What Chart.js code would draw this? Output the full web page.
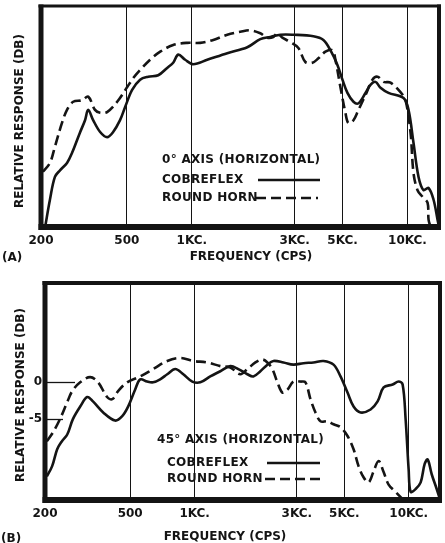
<!DOCTYPE html>
<html>
<head>
<meta charset="utf-8">
<script src="https://cdn.jsdelivr.net/npm/chart.js@4/dist/chart.umd.min.js"></script>
<style>
  html, body { margin: 0; padding: 0; background: #fff; }
  #wrap { position: relative; width: 445px; height: 543px; overflow: hidden; }
  .panel { position: absolute; left: 0; width: 445px; }
  #panelA { top: 0; height: 270px; }
  #panelB { top: 270px; height: 273px; }
</style>
</head>
<body>
<div id="wrap">
  <div class="panel" id="panelA"><canvas id="chartA"></canvas></div>
  <div class="panel" id="panelB"><canvas id="chartB"></canvas></div>
</div>
<script>
// frequency axis, cps
const freqTicks = [200, 500, 1000, 3000, 5000, 10000];
const freqLabels = ["200", "500", "1KC.", "3KC.", "5KC.", "10KC."];
const seriesNames = ["COBREFLEX", "ROUND HORN"];

// (A) 0 deg axis, relative response in db
const freqA_cobre = [209, 220, 232, 245, 264, 279, 303, 320, 331, 349, 376, 405, 432, 465, 491, 529, 576, 628, 699, 769,
  820, 865, 932, 1016, 1179, 1461, 1809, 2078, 2313, 2574, 2958, 3662, 4076, 4392, 4734, 4994, 5268, 5618, 5926, 6386,
  6736, 7106, 7498, 8166, 9586, 10112, 10666, 11252, 11868, 12522, 13210, 13784, 14000];
const dbA_cobre = [-24, -20.3, -17.2, -16.3, -15.3, -13.9, -11.2, -9.5, -8.1, -9.5, -11.1, -11.8, -11.1, -9.5, -7.7, -5.4, -4.0, -3.6, -3.4, -2.4,
  -1.7, -0.6, -1.3, -1.9, -1.3, -0.4, 0.4, 1.5, 1.8, 2.1, 2.1, 1.9, 1.4, 0.0, -2.0, -4.0, -5.8, -7.0, -7.2, -5.8,
  -4.7, -4.3, -5.1, -5.8, -6.5, -8.1, -12.6, -17.2, -19.0, -18.7, -20.3, -23.0, -24];

const freqA_horn = [204, 220, 232, 250, 264, 282, 310, 331, 356, 376, 405, 451, 502, 535, 576, 641, 714, 820, 952, 1094,
  1258, 1461, 1679, 1868, 2078, 2240, 2388, 2492, 2630, 2864, 3121, 3362, 3624, 3864, 4165, 4488, 4634, 4887, 5156, 5324,
  5618, 5926, 6386, 6882, 7260, 7740, 8344, 9284, 9794, 10332, 10666, 11132, 11744, 12388, 12522, 12794];
const dbA_horn = [-16.5, -15.3, -13.1, -9.9, -8.1, -7.0, -6.8, -6.3, -8.1, -8.5, -8.4, -7.0, -5.0, -3.8, -2.7, -1.3, -0.2, 0.7, 1.0, 1.0,
  1.4, 2.1, 2.5, 2.7, 2.3, 1.7, 1.8, 2.3, 1.7, 1.1, 0.3, -1.6, -1.7, -1.1, -0.2, 0.0, -1.3, -5.0, -8.5, -9.9,
  -9.5, -8.1, -6.1, -4.0, -3.6, -4.3, -4.4, -5.7, -6.8, -11.2, -16.7, -19.0, -19.9, -20.7, -23.0, -24];

// (B) 45 deg axis
const freqB_cobre = [204, 216, 228, 240, 254, 270, 292, 315, 335, 374, 425, 459, 489, 527, 557, 600, 640, 690, 745, 812,
  885, 975, 1063, 1183, 1318, 1468, 1600, 1763, 1881, 2028, 2187, 2334, 2599, 2894, 3224, 3591, 4000, 4455, 4802, 5178,
  5526, 5958, 6636, 7156, 7634, 8412, 8970, 9366, 9672, 9990, 10210, 10774, 11372, 11872, 12264, 12804, 13512, 14000];
const dbB_cobre = [-12.8, -11.4, -9.1, -8.0, -7.1, -5.0, -3.3, -2.0, -2.6, -4.1, -5.2, -4.6, -3.3, -1.0, 0.4, 0.1, 0.0, 0.4, 1.1, 1.8,
  1.1, 0.1, 0.0, 0.8, 1.5, 2.2, 1.8, 1.1, 0.8, 1.5, 2.4, 2.9, 2.7, 2.4, 2.6, 2.7, 2.9, 2.4, 0.8, -1.4,
  -3.3, -4.1, -3.7, -2.6, -0.7, -0.3, 0.1, -0.3, -5.0, -11.8, -14.9, -14.5, -13.6, -11.1, -10.5, -12.5, -14.5, -15.9];

const freqB_horn = [204, 218, 235, 254, 268, 292, 325, 354, 390, 412, 439, 484, 557, 640, 745, 856, 985, 1146, 1318, 1468,
  1635, 1763, 1922, 2071, 2187, 2308, 2436, 2571, 2714, 2894, 3122, 3294, 3476, 3668, 3872, 4174, 4455, 4802, 5178, 5526,
  5830, 6152, 6494, 6854, 7234, 7634, 8054, 8688, 9366];
const dbB_horn = [-8.0, -6.8, -5.0, -2.7, -1.2, 0.0, 0.7, 0.0, -2.0, -2.3, -1.2, 0.0, 0.8, 1.8, 2.9, 3.3, 2.9, 2.7, 2.2, 2.0,
  1.1, 1.8, 2.7, 3.1, 2.7, 1.8, 0.0, -1.4, -1.0, 0.1, 0.1, 0.0, -2.3, -4.1, -5.3, -5.3, -5.7, -6.1, -7.3, -9.1,
  -11.4, -12.9, -13.6, -12.1, -10.7, -12.2, -13.9, -14.9, -15.9];
const dbTicksB = [0, -5];

const ink = '#141414';
const textFont = 'bold 12px "DejaVu Sans"';
const dashPattern = [10, 5];

function points(xs, ys) {
  return xs.map((x, i) => ({x: x, y: ys[i]}));
}

// frame, reference marks, axis titles and the key inside the plot
const panelDecor = {
  id: 'panelDecor',
  beforeDatasetsDraw(chart, args, o) {
    const {ctx, chartArea: a} = chart;
    const y = chart.scales.y;
    ctx.save();
    ctx.strokeStyle = ink;
    ctx.lineWidth = 1.3;
    (o.refMarks || []).forEach(m => {
      const py = Math.round(y.getPixelForValue(m.value)) + 0.5;
      ctx.beginPath();
      ctx.moveTo(a.left, py);
      ctx.lineTo(a.left + m.length, py);
      ctx.stroke();
    });
    ctx.restore();
  },
  afterDatasetsDraw(chart, args, o) {
    const {ctx, chartArea: a} = chart;
    const f = o.frame;
    ctx.save();
    ctx.strokeStyle = ink;
    ctx.lineCap = 'butt';
    const edge = (w, x1, y1, x2, y2) => {
      ctx.lineWidth = w;
      ctx.beginPath();
      ctx.moveTo(x1, y1);
      ctx.lineTo(x2, y2);
      ctx.stroke();
    };
    edge(f.top, a.left - f.left / 2, a.top, a.right + f.right / 2, a.top);
    edge(f.right, a.right, a.top - f.top / 2, a.right, a.bottom + f.bottom / 2);
    edge(f.bottom, a.left - f.left / 2, a.bottom, a.right + f.right / 2, a.bottom);
    edge(f.left, a.left, a.top - f.top / 2, a.left, a.bottom + f.bottom / 2);

    ctx.fillStyle = ink;
    ctx.font = textFont;
    ctx.textBaseline = 'middle';

    // axis titles and panel letter
    ctx.textAlign = 'center';
    ctx.fillText('FREQUENCY (CPS)', o.xTitle.x, o.xTitle.y);
    ctx.textAlign = 'left';
    ctx.fillText(o.letter.text, o.letter.x, o.letter.y);
    ctx.save();
    ctx.translate(o.yTitle.x, o.yTitle.y);
    ctx.rotate(-Math.PI / 2);
    ctx.textAlign = 'center';
    ctx.fillText('RELATIVE RESPONSE (DB)', 0, 0);
    ctx.restore();

    // key
    const k = o.key;
    ctx.letterSpacing = '0.3px';
    ctx.textAlign = 'left';
    ctx.fillText(k.title, k.titleX, k.titleY);
    chart.data.datasets.forEach((ds, i) => {
      const row = k.rows[i];
      ctx.fillText(ds.label, k.textX, row.y);
      ctx.lineWidth = ds.borderWidth;
      ctx.setLineDash(ds.borderDash || []);
      ctx.beginPath();
      ctx.moveTo(row.x1, row.y);
      ctx.lineTo(row.x2, row.y);
      ctx.stroke();
    });
    ctx.setLineDash([]);
    ctx.restore();
  }
};

function makeChart(id, cfg) {
  return new Chart(document.getElementById(id), {
    type: 'line',
    data: {
      datasets: [
        {
          label: seriesNames[0],
          data: points(cfg.cobre[0], cfg.cobre[1]),
          borderColor: ink,
          borderWidth: 2.6,
          pointRadius: 0,
          tension: 0.35,
          fill: false
        },
        {
          label: seriesNames[1],
          data: points(cfg.horn[0], cfg.horn[1]),
          borderColor: ink,
          borderWidth: 2.6,
          borderDash: dashPattern,
          pointRadius: 0,
          tension: 0.35,
          fill: false
        }
      ]
    },
    options: {
      responsive: true,
      maintainAspectRatio: false,
      animation: false,
      events: [],
      layout: {padding: cfg.padding},
      scales: {
        x: {
          type: 'logarithmic',
          min: 200,
          max: 14000,
          afterBuildTicks: (s) => { s.ticks = freqTicks.map(v => ({value: v})); },
          afterFit: (s) => { s.height = cfg.xHeight; },
          ticks: {
            autoSkip: false,
            maxRotation: 0,
            padding: cfg.xTickPad,
            color: ink,
            font: {family: 'DejaVu Sans', weight: 'bold', size: 12},
            callback: (v) => freqLabels[freqTicks.indexOf(v)]
          },
          grid: {color: ink, lineWidth: 1, drawTicks: false},
          border: {display: false}
        },
        y: {
          min: cfg.yRange[0],
          max: cfg.yRange[1],
          afterBuildTicks: (s) => { s.ticks = cfg.yTicks.map(v => ({value: v})); },
          afterFit: (s) => { s.width = cfg.yWidth; },
          ticks: {
            display: cfg.yTicks.length > 0,
            padding: 3,
            color: ink,
            font: {family: 'DejaVu Sans', weight: 'bold', size: 12},
            callback: (v) => String(v)
          },
          grid: {display: false, drawTicks: false},
          border: {display: false}
        }
      },
      plugins: {
        legend: {display: false},
        tooltip: {enabled: false},
        panelDecor: cfg.decor
      }
    },
    plugins: [panelDecor]
  });
}

makeChart('chartA', {
  cobre: [freqA_cobre, dbA_cobre],
  horn: [freqA_horn, dbA_horn],
  padding: {top: 6, right: 6, bottom: 0, left: 0},
  xHeight: 43,
  xTickPad: 7,
  yWidth: 41,
  yRange: [-24, 6],
  yTicks: [],
  decor: {
    frame: {top: 3, right: 4, bottom: 6, left: 5},
    refMarks: [],
    xTitle: {x: 251, y: 257},
    yTitle: {x: 20, y: 121},
    letter: {text: '(A)', x: 2, y: 258},
    key: {
      title: '0° AXIS (HORIZONTAL)', titleX: 162, titleY: 160, textX: 162,
      rows: [{y: 180, x1: 258, x2: 320}, {y: 198, x1: 256, x2: 318}]
    }
  }
});

makeChart('chartB', {
  cobre: [freqB_cobre, dbB_cobre],
  horn: [freqB_horn, dbB_horn],
  padding: {top: 13, right: 5, bottom: 0, left: 0},
  xHeight: 43,
  xTickPad: 7,
  yWidth: 45,
  yRange: [-16, 13.5],
  yTicks: dbTicksB,
  decor: {
    frame: {top: 4, right: 4, bottom: 6, left: 5},
    refMarks: [{value: 0, length: 30}, {value: -5, length: 18}],
    xTitle: {x: 225, y: 267},
    yTitle: {x: 21, y: 125},
    letter: {text: '(B)', x: 1, y: 269},
    key: {
      title: '45° AXIS (HORIZONTAL)', titleX: 157, titleY: 170, textX: 167,
      rows: [{y: 193, x1: 267, x2: 320}, {y: 209, x1: 265, x2: 320}]
    }
  }
});
</script>
</body>
</html>
